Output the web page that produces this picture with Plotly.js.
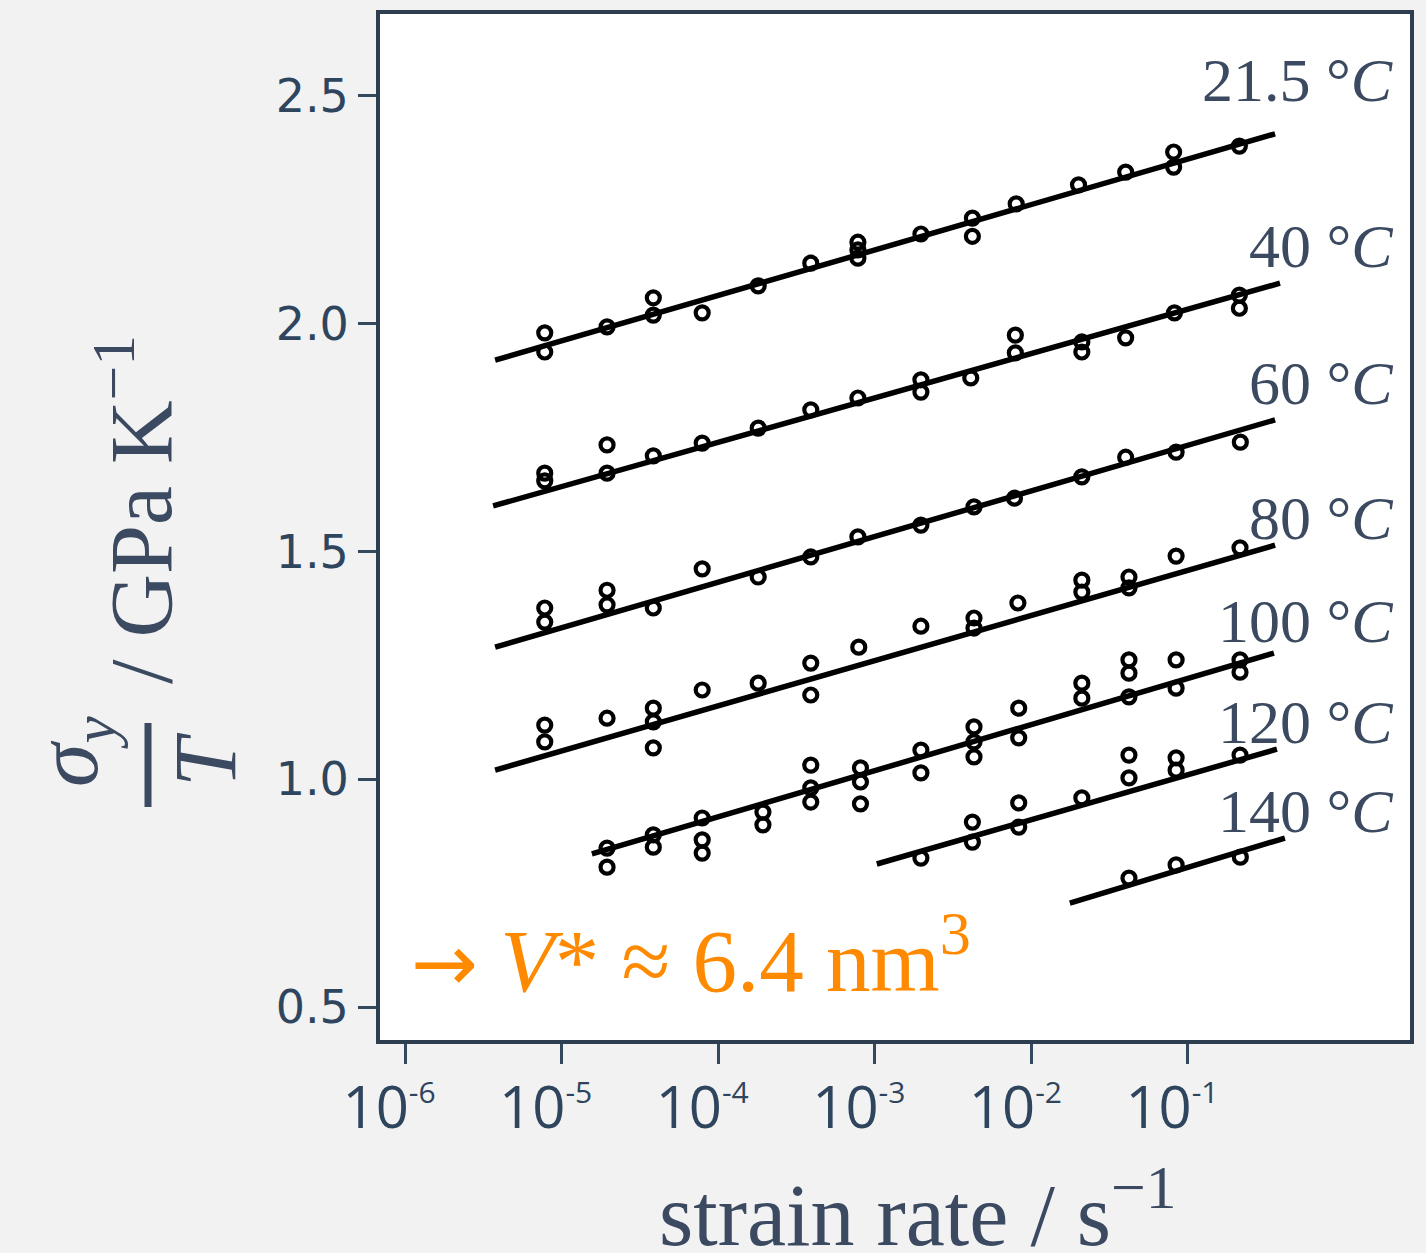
<!DOCTYPE html>
<html>
<head>
<meta charset="utf-8">
<script src="https://cdn.plot.ly/plotly-3.0.1.min.js"></script>
<style>html,body{margin:0;padding:0;background:#f2f2f2;}</style>
</head>
<body>
<div id="chart" style="width:1426px;height:1253px;"></div>
<script>
// ---- data ----
const temps = ["21.5", "40", "60", "80", "100", "120", "140"];
const xTickVals = [1e-6, 1e-5, 1e-4, 1e-3, 1e-2, 1e-1];
const xTickExp = ["-6", "-5", "-4", "-3", "-2", "-1"];
const yTickVals = [0.5, 1.0, 1.5, 2.0, 2.5];
const yTickText = ["0.5", "1.0", "1.5", "2.0", "2.5"];

const x_21 = [7.8e-6,7.8e-6,1.95e-5,3.85e-5,3.85e-5,7.9e-5,1.8e-4,3.9e-4,7.8e-4,7.8e-4,7.8e-4,1.97e-3,4.2e-3,4.2e-3,8.0e-3,2.0e-2,4.0e-2,8.1e-2,8.1e-2,0.213];
const y_21 = [1.980,1.938,1.993,2.057,2.019,2.024,2.083,2.133,2.179,2.162,2.144,2.197,2.232,2.192,2.263,2.305,2.333,2.377,2.344,2.390];
const fitX_21 = [3.76e-6, 0.36];
const fitY_21 = [1.920, 2.417];

const x_40 = [7.8e-6,7.8e-6,1.95e-5,1.95e-5,3.85e-5,7.9e-5,1.8e-4,3.9e-4,7.8e-4,1.97e-3,1.97e-3,4.1e-3,7.9e-3,7.9e-3,2.1e-2,2.1e-2,4.0e-2,8.2e-2,0.213,0.213];
const y_40 = [1.672,1.655,1.734,1.672,1.710,1.738,1.771,1.811,1.837,1.877,1.850,1.881,1.975,1.936,1.960,1.938,1.969,2.024,2.063,2.034];
const fitX_40 = [3.65e-6, 0.387];
const fitY_40 = [1.600, 2.089];

const x_60 = [7.8e-6,7.8e-6,1.95e-5,1.95e-5,3.85e-5,7.9e-5,1.8e-4,3.9e-4,7.8e-4,1.97e-3,4.3e-3,7.8e-3,2.1e-2,4.0e-2,8.4e-2,0.216];
const y_60 = [1.376,1.345,1.415,1.383,1.376,1.462,1.444,1.488,1.532,1.558,1.598,1.617,1.664,1.707,1.718,1.740];
const fitX_60 = [3.76e-6, 0.36];
const fitY_60 = [1.290, 1.789];

const x_80 = [7.8e-6,7.8e-6,1.95e-5,3.85e-5,3.85e-5,3.85e-5,7.9e-5,1.8e-4,3.9e-4,3.9e-4,7.9e-4,1.97e-3,4.3e-3,4.3e-3,8.2e-3,2.1e-2,2.1e-2,4.2e-2,4.2e-2,8.4e-2,0.215];
const y_80 = [1.119,1.082,1.134,1.156,1.126,1.069,1.196,1.211,1.255,1.185,1.290,1.336,1.354,1.332,1.387,1.437,1.411,1.444,1.420,1.490,1.508];
const fitX_80 = [3.76e-6, 0.36];
const fitY_80 = [1.020, 1.514];

const x_100 = [1.95e-5,1.95e-5,3.85e-5,3.85e-5,7.9e-5,7.9e-5,7.9e-5,1.93e-4,1.93e-4,3.9e-4,3.9e-4,3.9e-4,8.1e-4,8.1e-4,8.1e-4,1.97e-3,1.97e-3,4.3e-3,4.3e-3,4.3e-3,8.3e-3,8.3e-3,2.1e-2,2.1e-2,4.2e-2,4.2e-2,4.2e-2,8.4e-2,8.4e-2,0.215,0.215];
const y_100 = [0.849,0.807,0.878,0.851,0.915,0.867,0.838,0.928,0.900,1.031,0.981,0.950,1.025,0.994,0.946,1.064,1.014,1.115,1.082,1.049,1.156,1.091,1.211,1.178,1.262,1.233,1.181,1.262,1.200,1.262,1.235];
const fitX_100 = [1.56e-5, 0.354];
const fitY_100 = [0.836, 1.277];

const x_120 = [1.97e-3,4.2e-3,4.2e-3,8.3e-3,8.3e-3,2.1e-2,4.2e-2,4.2e-2,8.4e-2,8.4e-2,0.215];
const y_120 = [0.827,0.906,0.862,0.948,0.895,0.959,1.053,1.003,1.047,1.020,1.053];
const fitX_120 = [1.03e-3, 0.37];
const fitY_120 = [0.814, 1.066];

const x_140 = [4.2e-2,8.4e-2,0.216];
const y_140 = [0.783,0.812,0.829];
const fitX_140 = [1.76e-2, 0.416];
const fitY_140 = [0.728, 0.871];

// ---- build ----
const pts = [[x_21,y_21],[x_40,y_40],[x_60,y_60],[x_80,y_80],[x_100,y_100],[x_120,y_120],[x_140,y_140]];
const fits = [[fitX_21,fitY_21],[fitX_40,fitY_40],[fitX_60,fitY_60],[fitX_80,fitY_80],[fitX_100,fitY_100],[fitX_120,fitY_120],[fitX_140,fitY_140]];

const traces = [];
fits.forEach((f, i) => {
  traces.push({x: f[0], y: f[1], mode: 'lines', type: 'scatter', name: temps[i] + ' fit',
    line: {color: '#000', width: 5.5}, hoverinfo: 'skip'});
});
pts.forEach((p, i) => {
  traces.push({x: p[0], y: p[1], mode: 'markers', type: 'scatter', name: temps[i] + ' °C',
    marker: {symbol: 'circle-open', size: 13, color: '#000', line: {width: 4.2, color: '#000'}}});
});

const txt = '#2f455e';
const serif = 'Liberation Serif, Times New Roman, serif';
const W = 1426, H = 1253, L = 380, R = 16, T = 14, B = 213;
const pw = W - L - R, ph = H - T - B;
const px = p => (p - L) / pw;
const py = p => (H - B - p) / ph;

const xTickText = xTickExp.map(e => '10<sup><span style="font-size:30px">' + e + '</span></sup>');

const labelY = [80, 246, 383, 518, 621, 722, 811];
const annotations = temps.map((t, i) => ({
  xref: 'paper', yref: 'paper', x: px(1395), y: py(labelY[i]),
  xanchor: 'right', yanchor: 'middle', showarrow: false,
  text: t + ' °<i>C</i>',
  font: {family: serif, size: 62, color: '#3b4a60'}
}));

annotations.push({
  xref: 'paper', yref: 'paper', x: px(409), y: py(954), xanchor: 'left', yanchor: 'middle', showarrow: false,
  text: '<span style="font-family:DejaVu Sans;font-size:80px">→</span> <i>V</i>* ≈ 6.4 nm<sup>3</sup>',
  font: {family: serif, size: 89, color: '#ff8a00'}
});
annotations.push({
  xref: 'paper', yref: 'paper', x: px(918), y: py(1208), xanchor: 'center', yanchor: 'middle', showarrow: false,
  text: 'strain rate / s<sup>−1</sup>',
  font: {family: serif, size: 88, color: '#3b4a60'}
});
annotations.push({
  xref: 'paper', yref: 'paper', x: px(134), y: py(510), xanchor: 'center', yanchor: 'middle', showarrow: false,
  textangle: -90, text: '/ GPa K<sup>−1</sup>',
  font: {family: serif, size: 88, color: '#3b4a60'}
});
annotations.push({
  xref: 'paper', yref: 'paper', x: px(73), y: py(752), xanchor: 'center', yanchor: 'middle', showarrow: false,
  textangle: -90, text: '<i>σ<sub>y</sub></i>',
  font: {family: serif, size: 88, color: '#3b4a60'}
});
annotations.push({
  xref: 'paper', yref: 'paper', x: px(205), y: py(760), xanchor: 'center', yanchor: 'middle', showarrow: false,
  textangle: -90, text: '<i>T</i>',
  font: {family: serif, size: 88, color: '#3b4a60'}
});

const shapes = [{
  type: 'line', xref: 'paper', yref: 'paper', x0: px(148), x1: px(148), y0: py(723), y1: py(807),
  line: {color: '#3b4a60', width: 7}
}];

const layout = {
  width: W, height: H,
  margin: {l: L, r: R, t: T, b: B, pad: 0},
  paper_bgcolor: '#f2f2f2', plot_bgcolor: '#ffffff',
  showlegend: false,
  xaxis: {
    type: 'log', range: [-6.16, 0.418], tickvals: xTickVals, ticktext: xTickText,
    ticks: 'outside', ticklen: 20, tickwidth: 3, tickcolor: '#34495e',
    ticklabelshift: -16, ticklabelstandoff: -6,
    showline: true, linecolor: '#2c3e50', linewidth: 4, mirror: true,
    showgrid: false, zeroline: false,
    tickfont: {family: 'Liberation Sans Narrow, Open Sans, sans-serif', size: 58, color: txt}
  },
  yaxis: {
    range: [0.4276, 2.68], tickvals: yTickVals, ticktext: yTickText,
    ticks: 'outside', ticklen: 18, tickwidth: 3, tickcolor: '#34495e',
    showline: true, linecolor: '#2c3e50', linewidth: 4, mirror: true,
    showgrid: false, zeroline: false,
    tickfont: {family: 'DejaVu Sans, sans-serif', size: 46, color: txt}
  },
  annotations: annotations,
  shapes: shapes
};

Plotly.newPlot('chart', traces, layout, {staticPlot: true});
</script>
</body>
</html>
